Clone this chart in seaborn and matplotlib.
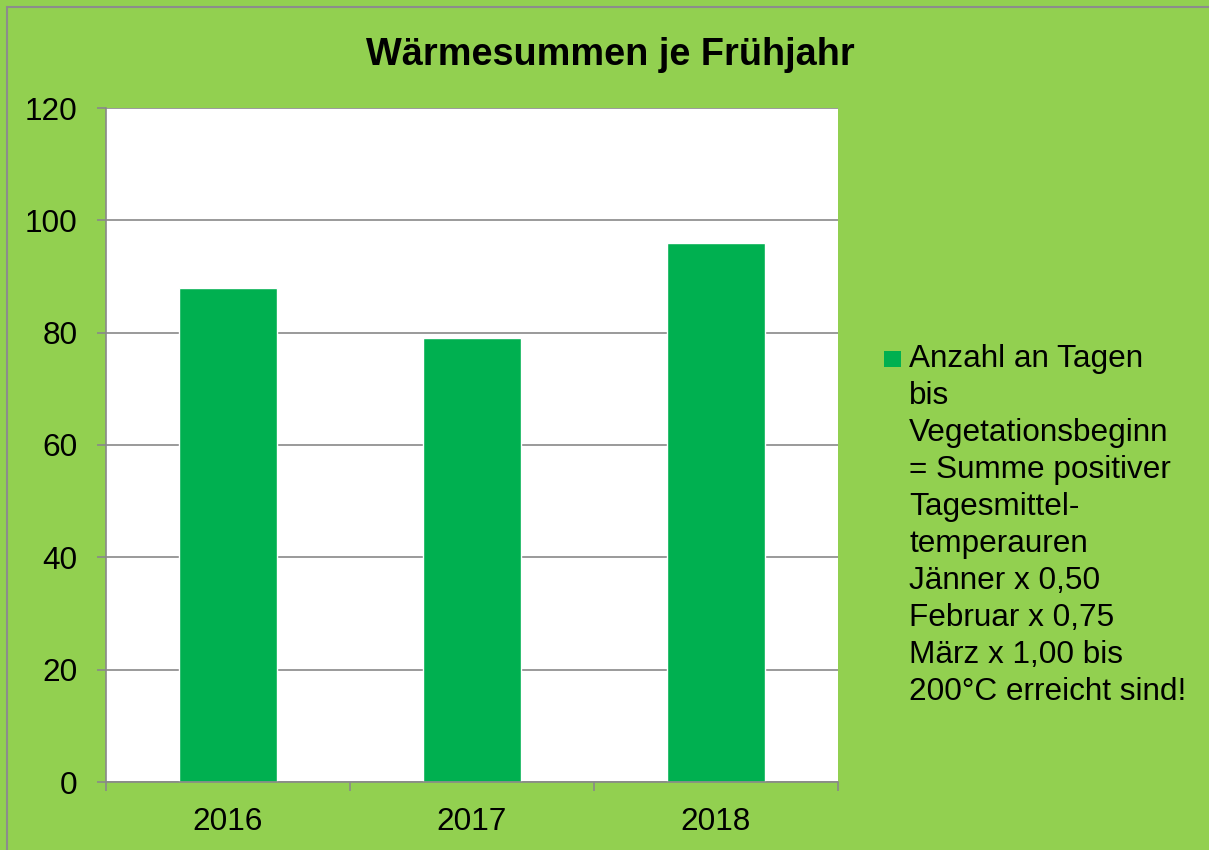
import matplotlib
matplotlib.use("Agg")
import matplotlib.pyplot as plt
import seaborn as sns
import pandas as pd
from matplotlib.patches import Rectangle

years = ["2016", "2017", "2018"]
values = [88, 79, 96]
yticks = [0, 20, 40, 60, 80, 100, 120]
title = "Wärmesummen je Frühjahr"
legend_lines = [
    "Anzahl an Tagen",
    "bis",
    "Vegetationsbeginn",
    "= Summe positiver",
    "Tagesmittel-",
    "temperauren",
    "Jänner x 0,50",
    "Februar x 0,75",
    "März x 1,00 bis",
    "200°C erreicht sind!",
]

BG = "#92D050"
BAR = "#00B050"
GRID = "#898989"

sns.set_theme(style="white")
plt.rcParams["font.family"] = ["Liberation Sans", "DejaVu Sans"]

W, H = 1209, 850
fig = plt.figure(figsize=(W / 100, H / 100), dpi=100)
fig.patch.set_facecolor(BG)

# figure border (top and left visible)
fig.patches.append(Rectangle((7 / W, -0.05), 1.1, 1.05 - 7.5 / H, transform=fig.transFigure,
                             fill=False, edgecolor="#8c8c8c", linewidth=1.5, zorder=0))

ax = fig.add_axes([106 / W, (H - 782) / H, (838 - 106) / W, (782 - 108) / H])
ax.set_facecolor("white")

df = pd.DataFrame({"Jahr": years, "Wert": values})
sns.barplot(data=df, x="Jahr", y="Wert", color=BAR, saturation=1, width=0.4, ax=ax, zorder=3)

ax.set_ylim(0, 120)
ax.set_xlim(-0.5, len(years) - 0.5)
ax.set_yticks(yticks)
ax.set_yticklabels([str(t) for t in yticks])
ax.yaxis.grid(True, color=GRID, linewidth=1.2)
ax.set_axisbelow(True)
ax.set_xlabel("")
ax.set_ylabel("")

for s in ["top", "right"]:
    ax.spines[s].set_visible(False)
for s in ["left", "bottom"]:
    ax.spines[s].set_color(GRID)
    ax.spines[s].set_linewidth(1.2)
    ax.spines[s].set_zorder(4)

ax.tick_params(axis="y", which="major", direction="out", length=6.5, width=1.2, color=GRID,
               labelsize=22.7, pad=14, left=True, labelcolor="black")
ax.set_xticks([i - 0.5 for i in range(len(years) + 1)], minor=True)
ax.tick_params(axis="x", which="minor", direction="out", length=6.5, width=1.2, color=GRID, bottom=True)
ax.tick_params(axis="x", which="major", length=0, labelsize=22.7, pad=18, labelcolor="black")

fig.text(610 / W, 1 - 65 / H, title, ha="center", va="baseline", fontsize=27.3, fontweight="bold", color="black")

# legend
fig.patches.append(Rectangle((884 / W, 1 - 367 / H), 17 / W, 16 / H, transform=fig.transFigure,
                             facecolor=BAR, edgecolor="none"))
for i, line in enumerate(legend_lines):
    fig.text(909 / W, 1 - (367 + 37 * i) / H, line, ha="left", va="baseline", fontsize=22.7, color="black")

fig.savefig("out.png", dpi=100, facecolor=BG)
